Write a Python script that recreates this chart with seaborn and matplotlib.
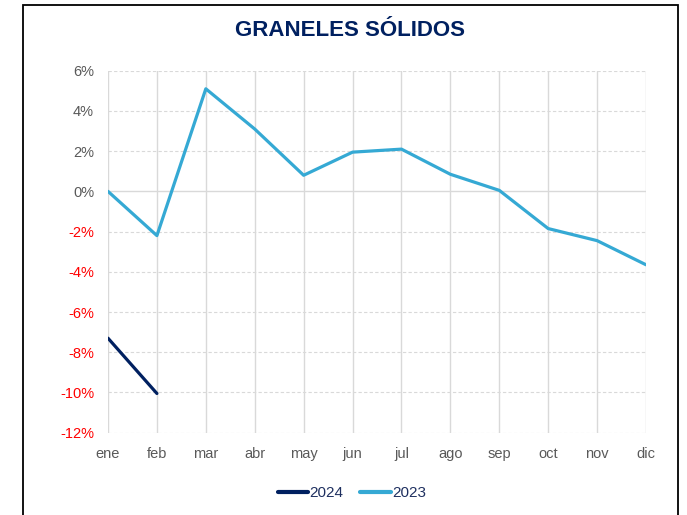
import matplotlib
matplotlib.use("Agg")
import matplotlib.pyplot as plt
from matplotlib.patches import Rectangle
from matplotlib.ticker import FuncFormatter
import seaborn as sns
import pandas as pd

months = ["ene", "feb", "mar", "abr", "may", "jun", "jul", "ago", "sep", "oct", "nov", "dic"]
vals_2023 = [0.0, -2.2, 5.1, 3.1, 0.8, 1.95, 2.1, 0.85, 0.05, -1.85, -2.45, -3.65]
vals_2024 = [-7.3, -10.05]
y_ticks = [6, 4, 2, 0, -2, -4, -6, -8, -10, -12]

rows = []
for i, v in enumerate(vals_2024):
    rows.append({"mes": i, "valor": v, "serie": "2024"})
for i, v in enumerate(vals_2023):
    rows.append({"mes": i, "valor": v, "serie": "2023"})
df = pd.DataFrame(rows)

sns.set_style("white")
plt.rcParams["font.family"] = ["Liberation Sans", "DejaVu Sans"]

fig = plt.figure(figsize=(6.87, 5.15), dpi=100)
ax = fig.add_axes([108 / 687, 1 - 432.7 / 515, (646 - 108) / 687, (432.7 - 70.7) / 515])

# grid: solid verticals, dashed horizontals
for i in range(len(months)):
    ax.axvline(i, color="#d9d9d9", lw=1.0, zorder=0)
for t in y_ticks:
    if t == 0:
        ax.axhline(t, color="#d9d9d9", lw=1.0, zorder=0)
    else:
        ax.axhline(t, color="#d9d9d9", lw=0.8, ls=(0, (3, 2)), zorder=0)

sns.lineplot(data=df, x="mes", y="valor", hue="serie",
             palette={"2024": "#002060", "2023": "#35a9d4"},
             hue_order=["2024", "2023"], linewidth=2.3, ax=ax, legend=True)

ax.set_xlim(0, len(months) - 1)
ax.set_ylim(-12, 6)
ax.set_xticks(range(len(months)))
ax.set_xticklabels(months)
ax.set_yticks(y_ticks)
ax.yaxis.set_major_formatter(FuncFormatter(lambda v, p: f"{int(round(v))}%"))
ax.tick_params(axis="both", length=0, labelsize=10.5, colors="#595959")
ax.tick_params(axis="x", pad=10)
ax.tick_params(axis="y", pad=10)
for lab in ax.get_yticklabels():
    txt = lab.get_text().replace("−", "-")
    if txt.startswith("-"):
        lab.set_color("#ff0000")
ax.set_xlabel("")
ax.set_ylabel("")
for s in ax.spines.values():
    s.set_visible(False)

leg = ax.legend(loc="center", bbox_to_anchor=((352 - 108) / 538, 1 - (493 - 70.7) / (432.7 - 70.7)),
                ncol=2, frameon=False, fontsize=11, handlelength=2.0,
                handletextpad=0.1, columnspacing=1.1)
for t in leg.get_texts():
    t.set_color("#1f3060")
for ln in leg.get_lines():
    ln.set_linewidth(3.0)

fig.text(350 / 687, 1 - 31 / 515, "GRANELES SÓLIDOS", ha="center", va="center",
         fontsize=16, fontweight="bold", color="#002060")

fig.patches.append(Rectangle((23 / 687, -0.05), (678 - 23) / 687, 1 - 5 / 515 + 0.05,
                             transform=fig.transFigure, fill=False,
                             edgecolor="#000000", lw=1.3))

fig.savefig("out.png", dpi=100)
